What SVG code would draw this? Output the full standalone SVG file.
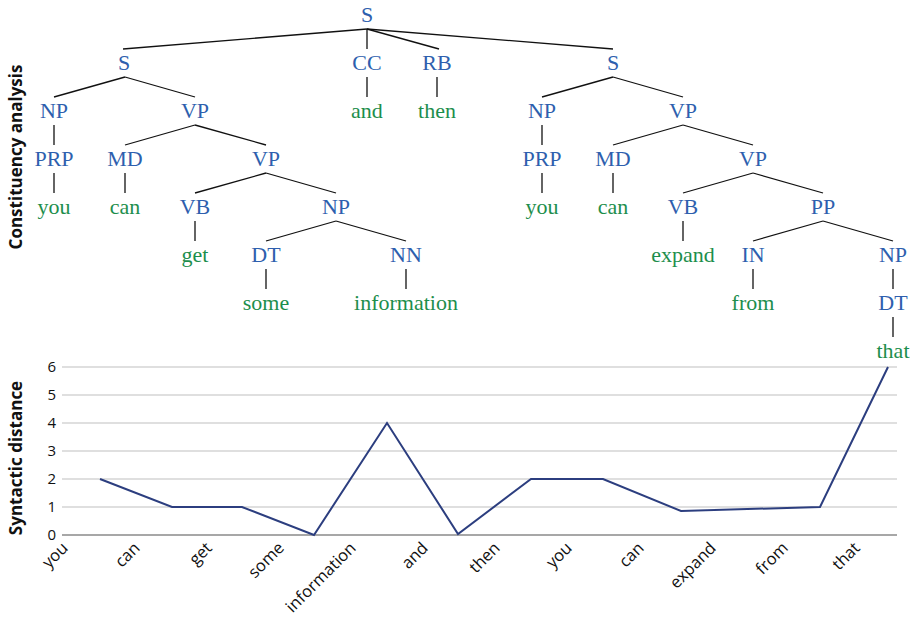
<svg xmlns="http://www.w3.org/2000/svg" width="917" height="619" viewBox="0 0 917 619">
<style>
.n{font-family:"Liberation Serif","Times New Roman",serif;font-size:22px;fill:#2e5fae;text-anchor:middle}
.w{font-family:"Liberation Serif","Times New Roman",serif;font-size:22px;fill:#1d8e4c;text-anchor:middle}
.e line{stroke:#111;stroke-width:1.3}
.grid{stroke:#d4d4d4;stroke-width:1.5}
.axis{stroke:#8a8a8a;stroke-width:1.5}
.tick{font-family:"Open Sans","Liberation Sans",sans-serif;font-size:15px;fill:#111;text-anchor:end}
.xl{font-family:"Open Sans","Liberation Sans",sans-serif;font-size:16.5px;fill:#111;text-anchor:end}
.title{font-family:"Open Sans","Liberation Sans",sans-serif;font-size:17px;font-weight:bold;fill:#111;text-anchor:middle}
</style>
<rect width="917" height="619" fill="#fff"/>
<g id="edges" class="e">
<line x1="367" y1="29" x2="123" y2="49"/>
<line x1="367" y1="29" x2="367" y2="49"/>
<line x1="367" y1="29" x2="439" y2="49"/>
<line x1="367" y1="29" x2="613" y2="49"/>
<line x1="125" y1="77" x2="54" y2="97"/>
<line x1="125" y1="77" x2="195" y2="97"/>
<line x1="367" y1="77" x2="367" y2="97"/>
<line x1="437" y1="77" x2="437" y2="97"/>
<line x1="613" y1="77" x2="542" y2="97"/>
<line x1="613" y1="77" x2="683" y2="97"/>
<line x1="54" y1="125" x2="54" y2="145"/>
<line x1="195" y1="125" x2="125" y2="145"/>
<line x1="195" y1="125" x2="266" y2="145"/>
<line x1="542" y1="125" x2="542" y2="145"/>
<line x1="683" y1="125" x2="613" y2="145"/>
<line x1="683" y1="125" x2="753" y2="145"/>
<line x1="54" y1="173" x2="54" y2="193"/>
<line x1="125" y1="173" x2="125" y2="193"/>
<line x1="266" y1="173" x2="195" y2="193"/>
<line x1="266" y1="173" x2="336" y2="193"/>
<line x1="542" y1="173" x2="542" y2="193"/>
<line x1="613" y1="173" x2="613" y2="193"/>
<line x1="753" y1="173" x2="683" y2="193"/>
<line x1="753" y1="173" x2="823" y2="193"/>
<line x1="195" y1="221" x2="195" y2="241"/>
<line x1="336" y1="221" x2="266" y2="241"/>
<line x1="336" y1="221" x2="406" y2="241"/>
<line x1="683" y1="221" x2="683" y2="241"/>
<line x1="823" y1="221" x2="753" y2="241"/>
<line x1="823" y1="221" x2="893" y2="241"/>
<line x1="266" y1="269" x2="266" y2="289"/>
<line x1="406" y1="269" x2="406" y2="289"/>
<line x1="753" y1="269" x2="753" y2="289"/>
<line x1="893" y1="269" x2="893" y2="289"/>
<line x1="893" y1="317" x2="893" y2="337"/>
</g>
<g id="n_S0"><text class="n" x="367" y="22">S</text></g>
<g id="n_S1"><text class="n" x="124" y="70">S</text></g>
<g id="n_CC"><text class="n" x="367" y="70">CC</text></g>
<g id="n_RB"><text class="n" x="437" y="70">RB</text></g>
<g id="n_S2"><text class="n" x="613" y="70">S</text></g>
<g id="n_NP1"><text class="n" x="54" y="118">NP</text></g>
<g id="n_VP1"><text class="n" x="195" y="118">VP</text></g>
<g id="w_and"><text class="w" x="367" y="118">and</text></g>
<g id="w_then"><text class="w" x="437" y="118">then</text></g>
<g id="n_NP2"><text class="n" x="542" y="118">NP</text></g>
<g id="n_VP3"><text class="n" x="683" y="118">VP</text></g>
<g id="n_PRP1"><text class="n" x="54" y="166">PRP</text></g>
<g id="n_MD1"><text class="n" x="125" y="166">MD</text></g>
<g id="n_VP2"><text class="n" x="266" y="166">VP</text></g>
<g id="n_PRP2"><text class="n" x="542" y="166">PRP</text></g>
<g id="n_MD2"><text class="n" x="613" y="166">MD</text></g>
<g id="n_VP4"><text class="n" x="753" y="166">VP</text></g>
<g id="w_you1"><text class="w" x="54" y="214">you</text></g>
<g id="w_can1"><text class="w" x="125" y="214">can</text></g>
<g id="n_VB1"><text class="n" x="195" y="214">VB</text></g>
<g id="n_NP3"><text class="n" x="336" y="214">NP</text></g>
<g id="w_you2"><text class="w" x="542" y="214">you</text></g>
<g id="w_can2"><text class="w" x="613" y="214">can</text></g>
<g id="n_VB2"><text class="n" x="683" y="214">VB</text></g>
<g id="n_PP"><text class="n" x="823" y="214">PP</text></g>
<g id="w_get"><text class="w" x="195" y="262">get</text></g>
<g id="n_DT1"><text class="n" x="266" y="262">DT</text></g>
<g id="n_NN"><text class="n" x="406" y="262">NN</text></g>
<g id="w_expand"><text class="w" x="683" y="262">expand</text></g>
<g id="n_IN"><text class="n" x="753" y="262">IN</text></g>
<g id="n_NP4"><text class="n" x="893" y="262">NP</text></g>
<g id="w_some"><text class="w" x="266" y="310">some</text></g>
<g id="w_information"><text class="w" x="406" y="310">information</text></g>
<g id="w_from"><text class="w" x="753" y="310">from</text></g>
<g id="n_DT2"><text class="n" x="893" y="310">DT</text></g>
<g id="w_that"><text class="w" x="893" y="358">that</text></g>
<g id="titles">
<text class="title" transform="translate(22,157) rotate(-90)">Constituency analysis</text>
<text class="title" transform="translate(22,458) rotate(-90)">Syntactic distance</text>
</g>
<g id="chart">
<line class="grid" x1="62" y1="367" x2="897" y2="367"/>
<line class="grid" x1="62" y1="395" x2="897" y2="395"/>
<line class="grid" x1="62" y1="423" x2="897" y2="423"/>
<line class="grid" x1="62" y1="451" x2="897" y2="451"/>
<line class="grid" x1="62" y1="479" x2="897" y2="479"/>
<line class="grid" x1="62" y1="507" x2="897" y2="507"/>
<line class="axis" x1="62" y1="535" x2="897" y2="535"/>
<text class="tick" x="56" y="540">0</text>
<text class="tick" x="56" y="512">1</text>
<text class="tick" x="56" y="484">2</text>
<text class="tick" x="56" y="456">3</text>
<text class="tick" x="56" y="428">4</text>
<text class="tick" x="56" y="400">5</text>
<text class="tick" x="56" y="372">6</text>
<polyline points="100,479 172,507 242,507 314,535 387,423 458,534 531,479 603,479 681,511 820,507 888,367" fill="none" stroke="#2c3e7f" stroke-width="2" stroke-linejoin="miter"/>
<text class="xl" transform="translate(69,549) rotate(-45)">you</text>
<text class="xl" transform="translate(141,549) rotate(-45)">can</text>
<text class="xl" transform="translate(213,549) rotate(-45)">get</text>
<text class="xl" transform="translate(285,549) rotate(-45)">some</text>
<text class="xl" transform="translate(357,549) rotate(-45)">information</text>
<text class="xl" transform="translate(429,549) rotate(-45)">and</text>
<text class="xl" transform="translate(501,549) rotate(-45)">then</text>
<text class="xl" transform="translate(573,549) rotate(-45)">you</text>
<text class="xl" transform="translate(645,549) rotate(-45)">can</text>
<text class="xl" transform="translate(717,549) rotate(-45)">expand</text>
<text class="xl" transform="translate(789,549) rotate(-45)">from</text>
<text class="xl" transform="translate(861,549) rotate(-45)">that</text>
</g>
</svg>
